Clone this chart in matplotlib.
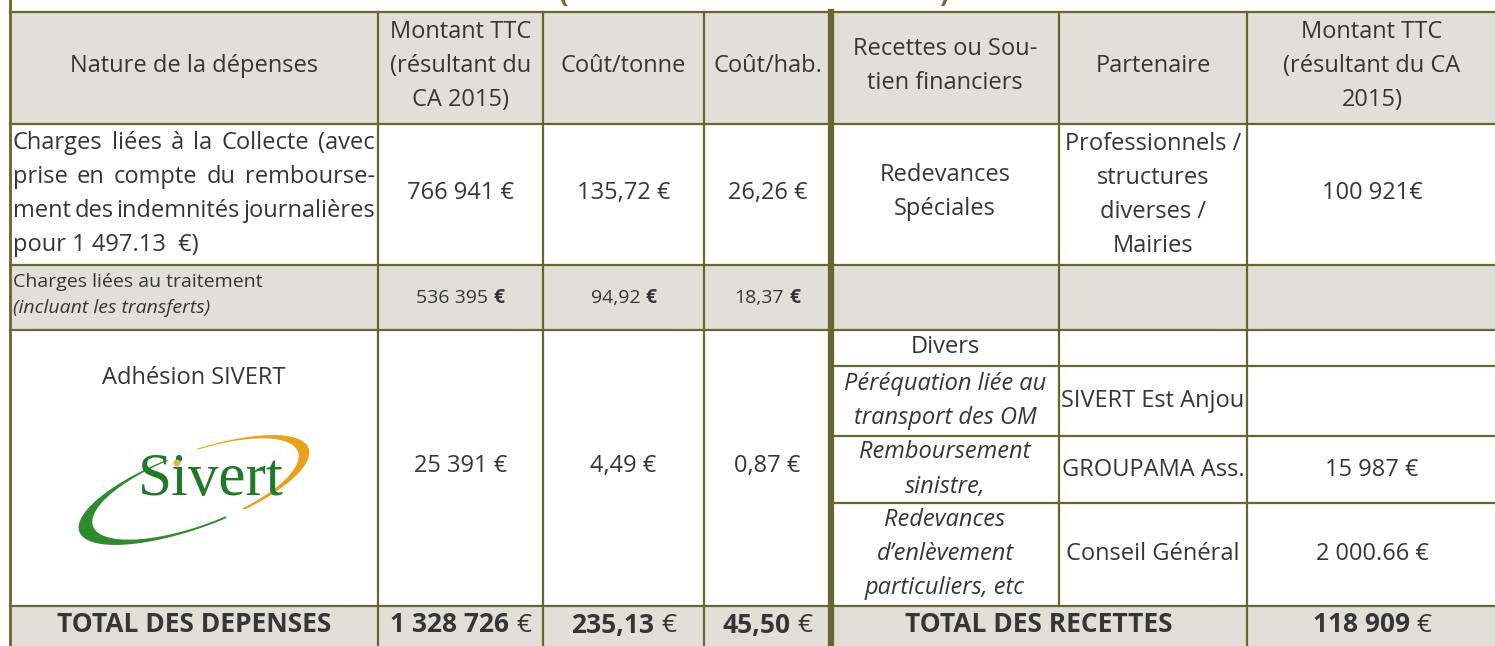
"""
Dépenses / recettes table (CA 2015) redrawn with matplotlib.
Everything is placed in pixel coordinates on one full-figure axes.
"""

import numpy as np
import matplotlib
matplotlib.use('Agg')
import matplotlib.pyplot as plt
from matplotlib.patches import Rectangle, Polygon, Circle

W, H = 1495, 646
LINE = '#66662f'
FILL = '#e0e0d8'
TXT = '#363636'
FONT = 'Open Sans'
FS = 17

# ── table content ────────────────────────────────────────────────────────────
headers = ['Nature de la dépenses',
           'Montant TTC\n(résultant du\nCA 2015)',
           'Coût/tonne',
           'Coût/hab.',
           'Recettes ou Sou-\ntien financiers',
           'Partenaire',
           'Montant TTC\n(résultant du CA\n2015)']

collecte_lines = ['Charges liées à la Collecte (avec',
                  'prise en compte du rembourse-',
                  'ment des indemnités journalières',
                  'pour 1 497.13  €)']
collecte_vals = ['766 941 €', '135,72 €', '26,26 €']

traitement_label = 'Charges liées au traitement'
traitement_note = '(incluant les transferts)'
traitement_vals = ['536 395', '94,92', '18,37']

sivert_label = 'Adhésion SIVERT'
sivert_vals = ['25 391 €', '4,49 €', '0,87 €']

recette_row1 = ['Redevances\nSpéciales',
                'Professionnels /\nstructures\ndiverses /\nMairies',
                '100 921€']
recette_sub_nature = ['Divers',
                      'Péréquation liée au\ntransport des OM',
                      'Remboursement\nsinistre,',
                      'Redevances\nd’enlèvement\nparticuliers, etc']
recette_sub_italic = [False, True, True, True]
recette_sub_partner = ['', 'SIVERT Est Anjou', 'GROUPAMA Ass.', 'Conseil Général']
recette_sub_amount = ['', '', '15 987 €', '2 000.66 €']

total_dep_label = 'TOTAL DES DEPENSES'
total_dep_vals = ['1 328 726', '235,13', '45,50']
total_rec_label = 'TOTAL DES RECETTES'
total_rec_val = '118 909'

# ── layout ──────────────────────────────────────────────────────────────────
col_x = [10, 378, 543, 704, 831, 1059, 1247, 1497]
row_y = [12, 124, 265, 330, 606, 660]
sub_y = [330, 366, 436, 503, 606]
LSP = 34  # line pitch in px

fig = plt.figure(figsize=(W / 100, H / 100), dpi=100)
ax = fig.add_axes([0, 0, 1, 1])
ax.set_xlim(0, W)
ax.set_ylim(H, 0)
ax.axis('off')
renderer = fig.canvas.get_renderer()


def cx(i, j=None):
    j = i + 1 if j is None else j
    return (col_x[i] + col_x[j]) / 2


def lines_at(x, yc, text, size=FS, pitch=LSP, ha='center', **kw):
    parts = text.split('\n')
    y0 = yc - pitch * (len(parts) - 1) / 2
    for k, p in enumerate(parts):
        ax.text(x, y0 + k * pitch, p, ha=ha, va='center', fontsize=size,
                color=TXT, family=FONT, **kw)


def width(s, **kw):
    t = ax.text(0, 0, s, fontsize=kw.pop('size', FS), family=FONT, **kw)
    w = t.get_window_extent(renderer).width
    t.remove()
    return w


def runs_at(xc, y, runs, size=FS):
    # runs: list of (text, weight); centred as one string
    gap = width('a a', size=size) - width('aa', size=size)
    ws = [width(s, size=size, fontweight=wt) for s, wt in runs]
    total = sum(ws) + gap * (len(runs) - 1)
    x = xc - total / 2
    for (s, wt), w in zip(runs, ws):
        ax.text(x, y, s, ha='left', va='center', fontsize=size, fontweight=wt,
                color=TXT, family=FONT)
        x += w + gap


def justified(x0, x1, y, line, last=False):
    words = line.split()
    if last or len(words) == 1:
        ax.text(x0, y, line, ha='left', va='center', fontsize=FS, color=TXT, family=FONT)
        return
    ws = [width(w) for w in words]
    gap = (x1 - x0 - sum(ws)) / (len(words) - 1)
    x = x0
    for w, wd in zip(words, ws):
        ax.text(x, y, w, ha='left', va='center', fontsize=FS, color=TXT, family=FONT)
        x += wd + gap


# ── fills ───────────────────────────────────────────────────────────────────
for (y0, y1) in [(row_y[0], row_y[1]), (row_y[2], row_y[3]), (row_y[4], row_y[5])]:
    ax.add_patch(Rectangle((col_x[0], y0), col_x[-1] - col_x[0], y1 - y0,
                           facecolor=FILL, edgecolor='none', zorder=0))

# ── grid lines ──────────────────────────────────────────────────────────────
lw = 1.6
for y in row_y[:5]:
    ax.plot([col_x[0], col_x[-1]], [y, y], color=LINE, lw=lw, zorder=2)
for y in sub_y[1:4]:
    ax.plot([col_x[4], col_x[-1]], [y, y], color=LINE, lw=lw, zorder=2)
ax.plot([col_x[0]] * 2, [0, H], color=LINE, lw=2, zorder=2)
for i in [1, 2, 3, 6]:
    ax.plot([col_x[i]] * 2, [row_y[0], H], color=LINE, lw=lw, zorder=2)
ax.plot([col_x[5]] * 2, [row_y[0], row_y[4]], color=LINE, lw=lw, zorder=2)
ax.plot([col_x[4]] * 2, [row_y[0], H], color=LINE, lw=4.5, zorder=2)

# cut-off title (only the bottoms of the brackets are visible)
ax.text(564, 9, '(', ha='center', va='bottom', fontsize=20, fontweight='bold',
        color='#6b6b33', family=FONT)
ax.text(944, 9, ')', ha='center', va='bottom', fontsize=20, fontweight='bold',
        color='#6b6b33', family=FONT)

# ── header ──────────────────────────────────────────────────────────────────
for i, h in enumerate(headers):
    lines_at(cx(i), 66, h)

# ── row 1: collecte ─────────────────────────────────────────────────────────
for k, ln in enumerate(collecte_lines):
    justified(13, 375, 143 + k * LSP, ln, last=(k == len(collecte_lines) - 1))
for i, v in enumerate(collecte_vals):
    lines_at(cx(i + 1), 193, v)
lines_at(cx(4), 192, recette_row1[0])
lines_at(cx(5), 195, recette_row1[1])
lines_at(cx(6), 193, recette_row1[2])

# ── row 2: traitement ───────────────────────────────────────────────────────
ax.text(13, 282, traitement_label, ha='left', va='center', fontsize=14, color=TXT, family=FONT)
ax.text(13, 308, traitement_note, ha='left', va='center', fontsize=14, color=TXT,
        family=FONT, style='italic')
for i, v in enumerate(traitement_vals):
    runs_at(cx(i + 1), 298, [(v, 'normal'), ('€', 'bold')], size=14)

# ── row 3: SIVERT ───────────────────────────────────────────────────────────
lines_at(cx(0), 378, sivert_label)
for i, v in enumerate(sivert_vals):
    lines_at(cx(i + 1), 466, v)

# logo: crescent swoosh + serif word
C = np.array([194.0, 490.0])
phi = np.deg2rad(20)
u = np.array([np.cos(phi), -np.sin(phi)])
v = np.array([np.sin(phi), np.cos(phi)])


def swoosh(t0, t1, color):
    t = np.deg2rad(np.linspace(t0, t1, 160))
    outer = C + np.outer(122 * np.cos(t), u) + np.outer(38 * np.sin(t), v)
    inner = C + np.outer(109 * np.cos(t), u) + np.outer(36.5 * np.sin(t), v) + np.array([1.5, -1])
    ax.add_patch(Polygon(np.vstack([outer, inner[::-1]]), closed=True,
                         facecolor=color, edgecolor='none', zorder=3))


swoosh(80, 262, '#2e8b2e')
swoosh(-82, 70, '#e8a21a')
ax.text(211, 495, 'Sivert', ha='center', va='baseline', fontsize=44,
        family='Liberation Serif', color='#1f7a28', zorder=4)
ax.add_patch(Circle((177, 463), 3.4, facecolor='#e8b04a', edgecolor='none', zorder=5))

# right-hand sub rows
for k in range(4):
    yc = (sub_y[k] + sub_y[k + 1]) / 2
    style = 'italic' if recette_sub_italic[k] else 'normal'
    lines_at(cx(4), yc + (-1 if k == 0 else 0), recette_sub_nature[k], style=style)
    if recette_sub_partner[k]:
        lines_at(cx(5), yc, recette_sub_partner[k])
    if recette_sub_amount[k]:
        lines_at(cx(6), yc, recette_sub_amount[k])

# ── totals ──────────────────────────────────────────────────────────────────
TS = 19
ax.text(cx(0), 625, total_dep_label, ha='center', va='center', fontsize=TS,
        fontweight='bold', color=TXT, family=FONT)
for i, v in enumerate(total_dep_vals):
    runs_at(cx(i + 1), 625, [(v, 'bold'), ('€', 'normal')], size=TS)
ax.text(cx(4, 6), 625, total_rec_label, ha='center', va='center', fontsize=TS,
        fontweight='bold', color=TXT, family=FONT)
runs_at(cx(6), 625, [(total_rec_val, 'bold'), ('€', 'normal')], size=TS)

fig.savefig('out.png', dpi=100)
plt.close(fig)
